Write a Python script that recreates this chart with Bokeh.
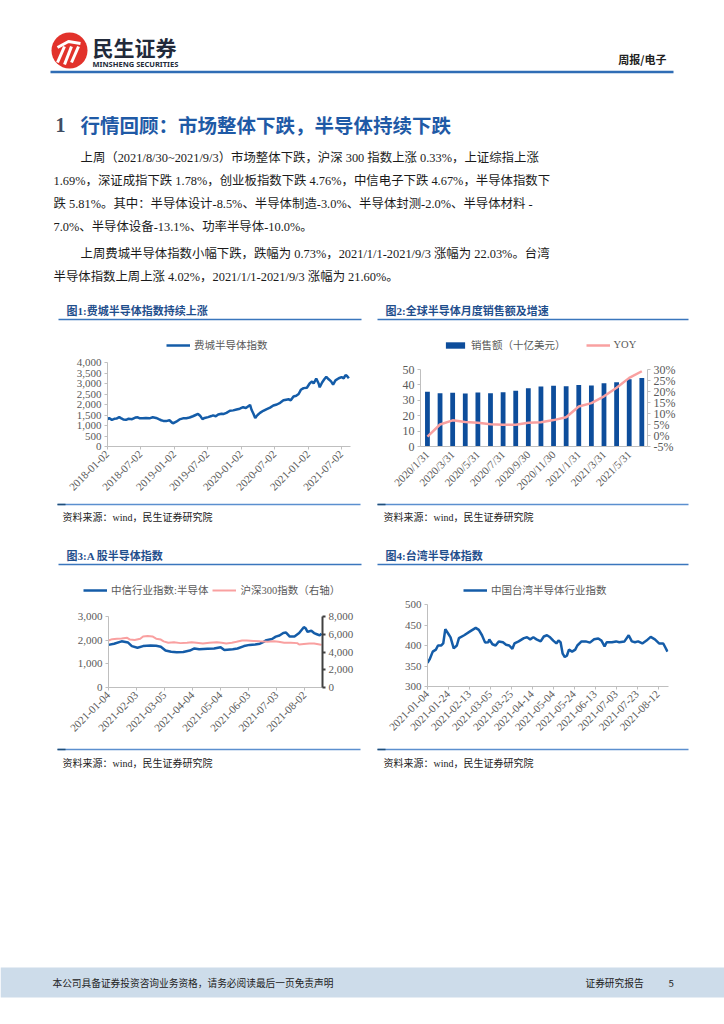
import pandas as pd
from math import pi
from bokeh.plotting import figure
from bokeh.layouts import column, row
from bokeh.models import (Range1d, LinearAxis, FixedTicker, NumeralTickFormatter,
                          PrintfTickFormatter, DatetimeTickFormatter, Legend, LegendItem)
from bokeh.core.properties import value
from bokeh.embed import file_html
from bokeh.resources import INLINE

# ---------------- data ----------------
sox_dates = ["2018-01-02", "2018-01-11", "2018-01-26", "2018-02-08", "2018-02-20", "2018-03-07",
             "2018-03-16", "2018-03-29", "2018-04-13", "2018-04-27", "2018-05-16", "2018-06-03",
             "2018-06-16", "2018-06-25", "2018-07-13", "2018-07-31", "2018-08-19", "2018-09-06",
             "2018-09-24", "2018-10-09", "2018-10-22", "2018-11-03", "2018-11-18", "2018-12-06",
             "2018-12-21", "2018-12-28", "2019-01-12", "2019-01-30", "2019-02-18", "2019-03-08",
             "2019-03-26", "2019-04-13", "2019-04-28", "2019-05-11", "2019-05-24", "2019-06-04",
             "2019-06-16", "2019-07-05", "2019-07-23", "2019-08-01", "2019-08-16", "2019-08-29",
             "2019-09-16", "2019-09-29", "2019-10-13", "2019-11-01", "2019-11-19", "2019-12-07",
             "2019-12-25", "2020-01-12", "2020-01-27", "2020-02-19", "2020-02-27", "2020-03-09",
             "2020-03-18", "2020-03-24", "2020-03-31", "2020-04-13", "2020-05-01", "2020-05-20",
             "2020-06-07", "2020-06-25", "2020-07-14", "2020-08-01", "2020-08-19", "2020-09-03",
             "2020-09-16", "2020-09-28", "2020-10-13", "2020-10-28", "2020-11-10", "2020-11-22",
             "2020-12-07", "2020-12-25", "2021-01-09", "2021-01-22", "2021-01-31", "2021-02-14",
             "2021-02-27", "2021-03-05", "2021-03-18", "2021-03-30", "2021-04-10", "2021-04-23",
             "2021-05-06", "2021-05-17", "2021-05-30", "2021-06-17", "2021-07-02", "2021-07-14",
             "2021-07-24", "2021-08-02", "2021-08-11"]
sox_values = [1300, 1350, 1270, 1320, 1330, 1400, 1350, 1290, 1270, 1320, 1300, 1380,
              1390, 1350, 1340, 1360, 1340, 1390, 1360, 1300, 1250, 1220, 1210, 1250,
              1130, 1110, 1180, 1290, 1340, 1350, 1380, 1440, 1500, 1550, 1450, 1300,
              1360, 1400, 1450, 1480, 1440, 1520, 1560, 1550, 1600, 1700, 1720, 1760,
              1800, 1870, 1830, 1980, 1750, 1550, 1350, 1430, 1500, 1600, 1700, 1780,
              1850, 1950, 2000, 2080, 2200, 2230, 2250, 2200, 2380, 2420, 2500, 2700,
              2780, 2800, 3000, 3100, 3000, 3240, 3000, 2820, 3050, 3200, 3320, 3200,
              3100, 2950, 3150, 3250, 3300, 3250, 3400, 3350, 3250]
sox_ticks = ["2018-01-02", "2018-07-02", "2019-01-02", "2019-07-02",
             "2020-01-02", "2020-07-02", "2021-01-02", "2021-07-02"]

sales_months = ["2020/1/31", "2020/2/29", "2020/3/31", "2020/4/30", "2020/5/31", "2020/6/30",
                "2020/7/31", "2020/8/31", "2020/9/30", "2020/10/31", "2020/11/30", "2020/12/31",
                "2021/1/31", "2021/2/28", "2021/3/31", "2021/4/30", "2021/5/31", "2021/6/30"]
sales_values = [35.5, 34.5, 34.9, 34.4, 35.0, 34.5, 35.2, 36.2, 37.9, 39.0, 39.4, 39.2,
                40.0, 39.6, 41.1, 41.8, 43.6, 44.5]
yoy_values = [-0.5, 5.0, 6.9, 6.1, 5.8, 5.1, 4.9, 4.9, 5.8, 6.0, 7.0, 8.3,
              13.2, 14.7, 17.8, 21.7, 26.2, 29.2]

semi_dates = ["2021-01-04", "2021-01-10", "2021-01-18", "2021-01-25", "2021-01-29", "2021-02-04",
              "2021-02-10", "2021-02-18", "2021-02-24", "2021-03-01", "2021-03-06", "2021-03-12",
              "2021-03-18", "2021-03-25", "2021-04-01", "2021-04-06", "2021-04-11", "2021-04-20",
              "2021-04-27", "2021-05-04", "2021-05-08", "2021-05-17", "2021-05-22", "2021-05-29",
              "2021-06-04", "2021-06-10", "2021-06-15", "2021-06-19", "2021-06-22", "2021-06-28",
              "2021-07-02", "2021-07-06", "2021-07-10", "2021-07-13", "2021-07-17", "2021-07-22",
              "2021-07-27", "2021-08-01", "2021-08-03", "2021-08-05", "2021-08-09", "2021-08-12",
              "2021-08-15", "2021-08-18", "2021-08-20"]
semi_values = [1800, 1850, 1950, 1900, 1750, 1680, 1750, 1770, 1760, 1720, 1560, 1510,
               1490, 1500, 1560, 1650, 1620, 1640, 1650, 1700, 1580, 1620, 1650, 1750,
               1800, 1820, 1850, 1930, 2000, 2050, 2150, 2200, 2300, 2320, 2150, 2150,
               2300, 2550, 2500, 2350, 2400, 2300, 2250, 2200, 2280]
hs_dates = ["2021-01-04", "2021-01-08", "2021-01-13", "2021-01-18", "2021-01-24", "2021-01-27",
            "2021-02-01", "2021-02-07", "2021-02-10", "2021-02-15", "2021-02-20", "2021-02-24",
            "2021-03-01", "2021-03-04", "2021-03-09", "2021-03-15", "2021-03-22", "2021-03-29",
            "2021-04-03", "2021-04-08", "2021-04-15", "2021-04-22", "2021-04-30", "2021-05-05",
            "2021-05-10", "2021-05-16", "2021-05-21", "2021-05-27", "2021-06-01", "2021-06-08",
            "2021-06-15", "2021-06-23", "2021-06-30", "2021-07-05", "2021-07-11", "2021-07-18",
            "2021-07-25", "2021-07-27", "2021-08-01", "2021-08-07", "2021-08-12", "2021-08-18",
            "2021-08-20"]
hs_values = [5300, 5450, 5500, 5520, 5600, 5400, 5350, 5500, 5750, 5800, 5750, 5500,
             5400, 5200, 5050, 5100, 5000, 5050, 5100, 5050, 4950, 5050, 5100, 5050,
             4950, 5050, 5150, 5300, 5300, 5250, 5200, 5150, 5200, 5150, 5050, 5050,
             5000, 4850, 4900, 4950, 4950, 4850, 4800]
a_ticks = ["2021-01-04", "2021-02-03", "2021-03-05", "2021-04-04",
           "2021-05-04", "2021-06-03", "2021-07-03", "2021-08-02"]

tw_dates = ["2021-01-04", "2021-01-06", "2021-01-09", "2021-01-12", "2021-01-14", "2021-01-17",
            "2021-01-19", "2021-01-21", "2021-01-24", "2021-01-26", "2021-01-29", "2021-02-01",
            "2021-02-03", "2021-02-08", "2021-02-14", "2021-02-19", "2021-02-22", "2021-02-25",
            "2021-02-28", "2021-03-03", "2021-03-04", "2021-03-07", "2021-03-10", "2021-03-13",
            "2021-03-17", "2021-03-20", "2021-03-23", "2021-03-26", "2021-03-28", "2021-04-01",
            "2021-04-06", "2021-04-09", "2021-04-12", "2021-04-15", "2021-04-18", "2021-04-22",
            "2021-04-25", "2021-04-28", "2021-05-01", "2021-05-04", "2021-05-07", "2021-05-09",
            "2021-05-11", "2021-05-13", "2021-05-15", "2021-05-17", "2021-05-19", "2021-05-22",
            "2021-05-25", "2021-05-27", "2021-05-31", "2021-06-04", "2021-06-08", "2021-06-12",
            "2021-06-16", "2021-06-19", "2021-06-22", "2021-06-24", "2021-06-29", "2021-07-03",
            "2021-07-06", "2021-07-11", "2021-07-15", "2021-07-18", "2021-07-21", "2021-07-24",
            "2021-07-28", "2021-08-01", "2021-08-05", "2021-08-09", "2021-08-11", "2021-08-13",
            "2021-08-17", "2021-08-19", "2021-08-21"]
tw_values = [358, 366, 385, 390, 400, 400, 405, 440, 428, 420, 393, 400,
             418, 425, 435, 443, 438, 425, 407, 408, 415, 403, 400, 410,
             408, 402, 400, 392, 405, 410, 418, 420, 415, 420, 415, 410,
             422, 425, 420, 412, 405, 412, 408, 380, 372, 375, 390, 385,
             390, 400, 410, 410, 407, 415, 417, 412, 398, 408, 408, 410,
             408, 410, 425, 410, 408, 410, 405, 412, 421, 415, 410, 405,
             405, 395, 385]
tw_ticks = ["2021-01-04", "2021-01-24", "2021-02-13", "2021-03-05", "2021-03-25", "2021-04-14",
            "2021-05-04", "2021-05-24", "2021-06-13", "2021-07-03", "2021-07-23", "2021-08-12"]

chart_titles = ["图1:费城半导体指数持续上涨", "图2:全球半导体月度销售额及增速",
                "图3:A 股半导体指数", "图4:台湾半导体指数"]
legend_labels = ["费城半导体指数", "销售额（十亿美元）", "YOY",
                 "中信行业指数:半导体", "沪深300指数（右轴）", "中国台湾半导体行业指数"]
source_text = "资料来源：wind，民生证券研究院"
para_lines = ["上周（2021/8/30~2021/9/3）市场整体下跌，沪深 300 指数上涨 0.33%，上证综指上涨",
              "1.69%，深证成指下跌 1.78%，创业板指数下跌 4.76%，中信电子下跌 4.67%，半导体指数下",
              "跌 5.81%。其中：半导体设计-8.5%、半导体制造-3.0%、半导体封测-2.0%、半导体材料 -",
              "7.0%、半导体设备-13.1%、功率半导体-10.0%。",
              "上周费城半导体指数小幅下跌，跌幅为 0.73%，2021/1/1-2021/9/3 涨幅为 22.03%。台湾",
              "半导体指数上周上涨 4.02%，2021/1/1-2021/9/3 涨幅为 21.60%。"]

# ---------------- style ----------------
SERIF = "Liberation Serif, Noto Sans CJK SC"
CJK = "Noto Sans CJK SC"
BLUE = "#145ca8"
PINK = "#f9a0a0"
BAR = "#0d4d9b"
RULE = "#3a76bd"
TITLE_C = "#1f4e8c"
GRAY = "#595959"
AXIS = "#bfbfbf"
W = 724
NAN = float("nan")


def ms(d):
    return pd.Timestamp(d).value // 10**6


def strip(w, h, x0, y0):
    p = figure(width=w, height=h, x_range=Range1d(x0, x0 + w), y_range=Range1d(y0 + h, y0),
               toolbar_location=None, output_backend="svg", min_border=0,
               x_axis_location=None, y_axis_location=None, title=None)
    p.grid.visible = False
    p.outline_line_color = None
    return p


def txt(p, x, y, s, size, color="#1a1a1a", font=SERIF, bold=False, align="left"):
    p.text(x=[x], y=[y], text=[s], text_font=value(font), text_font_size=f"{size}px",
           text_color=color, text_font_style="bold" if bold else "normal",
           text_align=align, text_baseline="middle")


def hline(p, x0, x1, y, color=RULE, width=1.5):
    p.segment(x0=[x0], y0=[y], x1=[x1], y1=[y], line_color=color, line_width=width)


def chart(w, h, ml, mr, mt, mb, **kw):
    p = figure(width=w, height=h, min_border_left=ml, min_border_right=mr,
               min_border_top=mt, min_border_bottom=mb, toolbar_location=None,
               output_backend="svg", title=None, **kw)
    p.grid.visible = False
    p.outline_line_color = None
    return p


def style_axis(ax, size="11px", color=AXIS, ticks=True, width=1):
    ax.axis_line_color = color
    ax.axis_line_width = width
    ax.major_tick_line_color = color if ticks else None
    ax.major_tick_line_width = width
    ax.minor_tick_line_color = None
    ax.major_tick_out = 3
    ax.major_tick_in = 0
    ax.major_label_text_font = SERIF
    ax.major_label_text_font_size = size
    ax.major_label_text_color = GRAY
    ax.major_label_standoff = 3


def legend_in(p, specs, loc, spacing=10, glyph_h=12):
    """Legend drawn in a strip above the chart, using style-only renderers (NaN data, invisible)."""
    items = []
    for label, kind, color, lw in specs:
        if kind == "bar":
            r = p.vbar(x=[NAN], top=[NAN], width=1, fill_color=color, line_color=None)
        else:
            r = p.line(x=[NAN, NAN], y=[NAN, NAN], line_color=color, line_width=lw)
        items.append(LegendItem(label=label, renderers=[r]))
    leg = Legend(items=items, location=loc, orientation="horizontal",
                 background_fill_alpha=0, border_line_color=None, padding=0, margin=0,
                 spacing=spacing, glyph_width=24, glyph_height=glyph_h, label_height=12,
                 label_standoff=4, label_text_font=SERIF, label_text_font_size="10.5px",
                 label_text_color=GRAY)
    p.add_layout(leg)


date_fmt = DatetimeTickFormatter(days="%Y-%m-%d", months="%Y-%m-%d", years="%Y-%m-%d")

# ---------------- top section (page y 0..300) ----------------
top = strip(W, 300, 0, 0)
top.circle(x=[69], y=[50], radius=18, fill_color="#e2322b", line_color=None)
top.multi_line(xs=[[57, 64], [64, 71], [71, 78], [57, 68, 80]],
               ys=[[62, 46], [64, 46], [62, 46], [47, 41, 43]],
               line_color="white", line_width=3)
txt(top, 92, 46, "民生证券", 21, "#222a3a", CJK, bold=True)
txt(top, 92, 63, "MINSHENG SECURITIES", 7.5, "#222a3a", "Noto Sans", bold=True)
txt(top, 666, 58, "周报/电子", 11, "#222222", CJK, bold=True, align="right")
hline(top, 50, 673, 71.5, "#2f6db5", 2.5)
txt(top, 55, 124, "1", 20, "#3f4d63", "Liberation Serif", bold=True)
txt(top, 80, 124, "行情回顾：市场整体下跌，半导体持续下跌", 19.5, "#1f5aa6", CJK, bold=True)
line_y = [157, 180, 203, 226, 253, 276]
line_x = [80, 53, 53, 53, 80, 53]
for s, x, y in zip(para_lines, line_x, line_y):
    txt(top, x, y, s, 12.4)


# ---------------- strips for chart titles / legends / sources ----------------
def title_strip(h, y0, ty, ry, titles):
    p = strip(W, h, 0, y0)
    for (tx, r0, r1), t in zip([(66, 58, 361), (385, 377, 688)], titles):
        txt(p, tx, ty, t, 11, TITLE_C, SERIF, bold=True)
        hline(p, r0, r1, ry)
    return p


def source_strip(h, y0, ty, ry):
    p = strip(W, h, 0, y0)
    for tx, r0, r1 in [(62, 57, 360), (383, 377, 688)]:
        hline(p, r0, r1, ry, "#5b8fcf", 1.5)
        hline(p, r0, r0 + 8, ry, "#1f4e79", 1.5)
        txt(p, tx, ty, source_text, 10, "#222222", SERIF)
    return p


ts1 = title_strip(55, 300, 310, 319, chart_titles[:2])          # page y 300..355
legend_in(ts1, [(legend_labels[0], "line", BLUE, 2.5)], (166, 3))
legend_in(ts1, [(legend_labels[1], "bar", BAR, 0), (legend_labels[2], "line", PINK, 2.5)],
          (443, 3), spacing=20, glyph_h=8)
ss1 = source_strip(28, 502, 517, 504)                            # page y 502..530
ts2 = title_strip(68, 530, 555, 564, chart_titles[2:])          # page y 530..598
legend_in(ts2, [(legend_labels[3], "line", BLUE, 2.5), (legend_labels[4], "line", PINK, 2)],
          (83, 1), spacing=4)
legend_in(ts2, [(legend_labels[5], "line", BLUE, 2.5)], (463, 1))
ss2 = source_strip(33, 747, 763, 749)                            # page y 747..780

# Chart 1 : SOX   (canvas x 0..370, page y 355..502)
c1 = chart(370, 147, 107, 20, 7, 56, x_axis_type="datetime",
           x_range=Range1d(ms("2018-01-02"), ms("2021-08-20")), y_range=Range1d(0, 4000))
c1.line(x=pd.to_datetime(sox_dates), y=sox_values, line_color=BLUE, line_width=2.5)
style_axis(c1.xaxis[0])
style_axis(c1.yaxis[0])
c1.xaxis.ticker = FixedTicker(ticks=[ms(d) for d in sox_ticks])
c1.xaxis.formatter = date_fmt
c1.xaxis.major_label_orientation = pi / 4
c1.yaxis.ticker = FixedTicker(ticks=list(range(0, 4001, 500)))
c1.yaxis.formatter = NumeralTickFormatter(format="0,0")

# Chart 2 : global sales  (canvas x 370..716, page y 355..502)
idx = list(range(len(sales_months)))
c2 = chart(346, 147, 50, 69, 14, 56, x_range=Range1d(-0.55, len(idx) - 0.55),
           y_range=Range1d(0, 50))
c2.extra_y_ranges = {"yoy": Range1d(-5, 30)}
c2.vbar(x=idx, top=sales_values, width=0.38, fill_color=BAR, line_color=None)
c2.line(x=idx, y=yoy_values, y_range_name="yoy", line_color=PINK, line_width=2.5)
style_axis(c2.xaxis[0], ticks=False)
style_axis(c2.yaxis[0], size="12px")
c2.xaxis.ticker = FixedTicker(ticks=idx[::2])
c2.xaxis.major_label_overrides = {i: sales_months[i] for i in idx[::2]}
c2.xaxis.major_label_orientation = pi / 4
c2.yaxis.ticker = FixedTicker(ticks=list(range(0, 51, 10)))
ax2 = LinearAxis(y_range_name="yoy", ticker=FixedTicker(ticks=list(range(-5, 31, 5))),
                 formatter=PrintfTickFormatter(format="%d%%"))
style_axis(ax2, size="12px")
c2.add_layout(ax2, "right")

# Chart 3 : A-share semiconductor (canvas x 0..370, page y 598..747)
c3 = chart(370, 149, 108, 48, 18, 60, x_axis_type="datetime",
           x_range=Range1d(ms("2021-01-04"), ms("2021-08-21")), y_range=Range1d(0, 3000))
c3.extra_y_ranges = {"hs": Range1d(0, 8000)}
c3.line(x=pd.to_datetime(semi_dates), y=semi_values, line_color=BLUE, line_width=2.5)
c3.line(x=pd.to_datetime(hs_dates), y=hs_values, y_range_name="hs",
        line_color=PINK, line_width=2)
style_axis(c3.xaxis[0])
style_axis(c3.yaxis[0])
c3.xaxis.ticker = FixedTicker(ticks=[ms(d) for d in a_ticks])
c3.xaxis.formatter = date_fmt
c3.xaxis.major_label_orientation = pi / 4
c3.yaxis.ticker = FixedTicker(ticks=list(range(0, 3001, 1000)))
c3.yaxis.formatter = NumeralTickFormatter(format="0,0")
ax3 = LinearAxis(y_range_name="hs", ticker=FixedTicker(ticks=list(range(0, 8001, 2000))),
                 formatter=NumeralTickFormatter(format="0,0"))
style_axis(ax3, color="#404040", width=2)
c3.add_layout(ax3, "right")

# Chart 4 : Taiwan semiconductor (canvas x 370..716, page y 598..747)
c4 = chart(346, 149, 57, 48, 6, 61, x_axis_type="datetime",
           x_range=Range1d(ms("2021-01-04"), ms("2021-08-22")), y_range=Range1d(300, 500))
c4.line(x=pd.to_datetime(tw_dates), y=tw_values, line_color=BLUE, line_width=2.5)
style_axis(c4.xaxis[0])
style_axis(c4.yaxis[0])
c4.xaxis.ticker = FixedTicker(ticks=[ms(d) for d in tw_ticks])
c4.xaxis.formatter = date_fmt
c4.xaxis.major_label_orientation = pi / 4
c4.yaxis.ticker = FixedTicker(ticks=list(range(300, 501, 50)))

# ---------------- footer (page y 780..1008) ----------------
bottom = strip(W, 228, 0, 780)
bottom.quad(left=[0], right=[W], top=[967], bottom=[997], fill_color="#cddcea", line_color=None)
txt(bottom, 52, 982, "本公司具备证券投资咨询业务资格，请务必阅读最后一页免责声明", 9.7, "#222222", CJK)
txt(bottom, 585, 982, "证券研究报告", 9.7, "#222222", CJK)
txt(bottom, 668, 982, "5", 9.7, "#222222", CJK)

layout = column(top, ts1,
                row(column(c1), column(c2)),
                ss1, ts2,
                row(column(c3), column(c4)),
                ss2, bottom)

open("out.html", "w").write(file_html(layout, INLINE))
